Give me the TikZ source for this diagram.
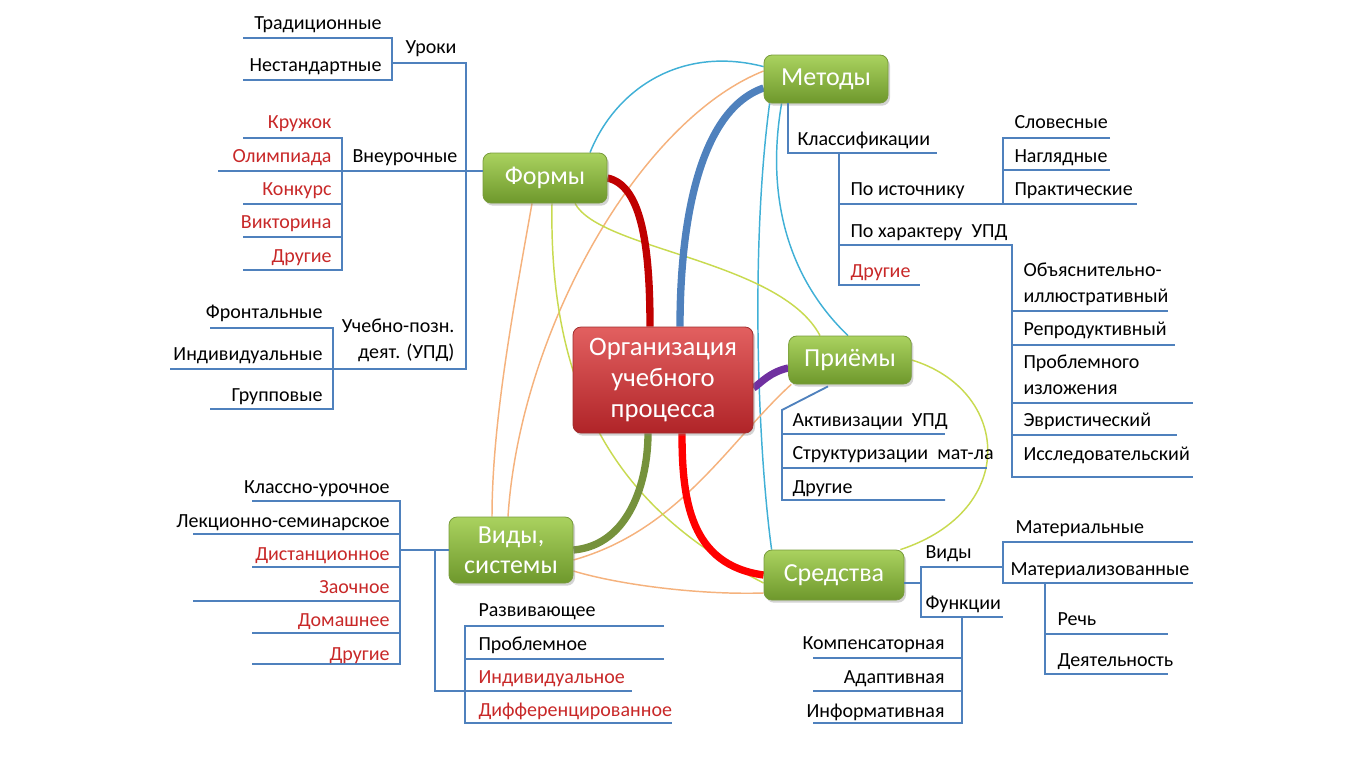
\documentclass[tikz,border=0pt]{standalone}
\usepackage{fontspec}
\setmainfont{Carlito}
\usetikzlibrary{calc,shadows,backgrounds}

\definecolor{treeblue}{RGB}{79,129,189}
\definecolor{leafred}{RGB}{200,40,40}
\definecolor{greentop}{RGB}{170,210,95}
\definecolor{greenbot}{RGB}{110,152,44}
\definecolor{greenrim}{RGB}{120,155,60}
\definecolor{redtop}{RGB}{226,96,96}
\definecolor{redbot}{RGB}{176,36,40}
\definecolor{redrim}{RGB}{160,45,45}
\definecolor{linkcyan}{RGB}{64,176,214}
\definecolor{linkorange}{RGB}{245,178,125}
\definecolor{linklime}{RGB}{200,218,80}
\definecolor{formyred}{RGB}{192,0,0}
\definecolor{metodyblue}{RGB}{79,129,189}
\definecolor{priemypurple}{RGB}{112,48,160}
\definecolor{vidyolive}{RGB}{118,146,60}
\definecolor{sredstvared}{RGB}{255,0,0}

\tikzset{every picture/.style={line width=0.75pt},
  topic/.style={rounded corners=6pt, draw=greenrim, line width=0.6pt, top color=greentop, bottom color=greenbot,
    text=white, font=\fontsize{19.5}{22.5}\selectfont, align=center, inner sep=0pt,
    drop shadow={opacity=0.35, shadow xshift=1.5pt, shadow yshift=-2pt}},
  core/.style={topic, draw=redrim, top color=redtop, bottom color=redbot, font=\fontsize{20}{23}\selectfont},
  leaf/.style={inner sep=0pt, font=\fontsize{15}{19.5}\selectfont},
  redleaf/.style={leaf, text=leafred},
  branch/.style={draw=treeblue, line width=1.4pt},
  thinlink/.style={line width=1.1pt},
  thicklink/.style={line width=5.5pt}
}

\begin{document}
\begin{tikzpicture}[x=0.75pt,y=0.75pt,yscale=-1,xscale=1]
\useasboundingbox (0,0) rectangle (1366,768);

%Rounded Rect: main topics
\draw (663,380) node [core, minimum width=135pt, minimum height=79.5pt] (org) {Организация\\учебного\\процесса};
\draw (826,79) node [topic, minimum width=93pt, minimum height=36pt] (metody) {Методы};
\draw (545,178) node [topic, minimum width=93pt, minimum height=37.5pt] (formy) {Формы};
\draw (850,360) node [topic, minimum width=92pt, minimum height=36pt] (priemy) {Приёмы};
\draw (511,550) node [topic, minimum width=93pt, minimum height=49.5pt] (vidy) {Виды,\\системы};
\draw (834,575) node [topic, minimum width=105pt, minimum height=37.5pt] (sredstva) {Средства};

\begin{scope}[on background layer]
%Curve Lines: thin links
\draw [thinlink, linkcyan] ($(formy.north)+(45,0)$) .. controls (615,90) and (680,45) .. ($(metody.north west)+(0,12)$) ;
\draw [thinlink, linkcyan] ($(metody.south west)+(6,0)$) .. controls (750,250) and (758,450) .. ($(sredstva.north west)+(8,0)$) ;
\draw [thinlink, linkcyan] ($(metody.south west)+(18,0)$) .. controls (765,200) and (790,280) .. ($(priemy.north)+(-2,0)$) ;
\draw [thinlink, linkorange] ($(metody.west)+(0,-8)$) .. controls (640,120) and (520,330) .. ($(vidy.north)+(-3,0)$) ;
\draw [thinlink, linkorange] ($(formy.south)+(-13,0)$) .. controls (515,300) and (492,420) .. ($(vidy.north)+(-19,0)$) ;
\draw [thinlink, linkorange] ($(priemy.south west)+(3,0)$) .. controls (730,440) and (680,530) .. ($(vidy.east)+(0,10)$) ;
\draw [thinlink, linkorange] ($(vidy.east)+(0,21)$) .. controls (620,585) and (700,595) .. ($(sredstva.west)+(0,18)$) ;
\draw [thinlink, linklime] ($(formy.south)+(30,0)$) .. controls (600,250) and (780,260) .. ($(priemy.north)+(-30,0)$) ;
\draw [thinlink, linklime] ($(formy.south)+(7,0)$) .. controls (548,420) and (640,520) .. ($(sredstva.west)+(0,8)$) ;
\draw [thinlink, linklime] (priemy.east) .. controls (1010,390) and (1020,510) .. ($(sredstva.north east)+(-4,0)$) ;

%Curve Lines: thick links
\draw [thicklink, formyred] (formy.east) .. controls (640,185) and (650,240) .. ($(org.north)+(-13,0)$) ;
\draw [thicklink, metodyblue] ($(metody.west)+(0,9)$) .. controls (700,110) and (680,220) .. ($(org.north)+(17,0)$) ;
\draw [thicklink, priemypurple] ($(priemy.west)+(0,8)$) .. controls (770,372) and (762,382) .. ($(org.east)+(0,8)$) ;
\draw [thicklink, vidyolive] (vidy.east) .. controls (630,545) and (648,480) .. ($(org.south)+(-15,0)$) ;
\draw [thicklink, sredstvared] (sredstva.west) .. controls (690,565) and (682,500) .. ($(org.south)+(19,0)$) ;
\end{scope}

%Straight Lines: Формы
\draw [branch] (243,38) -- (392,38) -- (392,80) -- (243,80) ;
\draw [branch] (392,63) -- (466,63) -- (466,369) -- (170,369) ;
\draw [branch] (218,171) -- (483,171) ;
\draw [branch] (243,137.7) -- (342,137.7) -- (342,270) -- (243,270) ;
\draw [branch] (243,204) -- (342,204) ;
\draw [branch] (243,237) -- (342,237) ;
\draw [branch] (210,328) -- (333,328) -- (333,409) -- (210,409) ;

%Straight Lines: Виды, системы
\draw [branch] (400,550) -- (449,550) ;
\draw [branch] (252,500.7) -- (400,500.7) -- (400,664) -- (252,664) ;
\draw [branch] (193,534) -- (400,534) ;
\draw [branch] (252,567) -- (400,567) ;
\draw [branch] (193,601) -- (400,601) ;
\draw [branch] (252,633) -- (400,633) ;
\draw [branch] (435,550) -- (435,691) -- (632,691) ;
\draw [branch] (664,626) -- (465,626) -- (465,723) -- (672,723) ;
\draw [branch] (465,659) -- (664,659) ;

%Straight Lines: Методы
\draw [branch] (788,103) -- (788,153) -- (937,153) ;
\draw [branch] (839,153) -- (839,285) -- (920,285) ;
\draw [branch] (839,204) -- (1137,204) ;
\draw [branch] (1110,138) -- (1003,138) -- (1003,204) ;
\draw [branch] (1003,170) -- (1110,170) ;
\draw [branch] (839,245) -- (1012,245) -- (1012,477) -- (1193,477) ;
\draw [branch] (1012,311) -- (1168,311) ;
\draw [branch] (1012,345) -- (1175,345) ;
\draw [branch] (1012,403) -- (1193,403) ;
\draw [branch] (1012,435) -- (1177,435) ;

%Straight Lines: Приёмы
\draw [branch] ($(priemy.south)+(-22,2)$) -- (782,410) -- (782,500) -- (945,500) ;
\draw [branch] (782,434) -- (945,434) ;
\draw [branch] (782,468) -- (987,468) ;

%Straight Lines: Средства
\draw [branch] (904,583) -- (921,583) ;
\draw [branch] (1003,567) -- (921,567) -- (921,617) -- (1003,617) ;
\draw [branch] (1193,542) -- (1003,542) -- (1003,583) -- (1193,583) ;
\draw [branch] (1045,583) -- (1045,674) -- (1168,674) ;
\draw [branch] (1045,634) -- (1168,634) ;
\draw [branch] (962,617) -- (962,723) -- (813,723) ;
\draw [branch] (813,658) -- (962,658) ;
\draw [branch] (813,691) -- (962,691) ;

% Text Node: Формы
\draw (382,29) node [leaf, anchor=base east] (trad) {Традиционные};
\draw (382,71) node [leaf, anchor=base east] (nestd) {Нестандартные};
\draw (405,53) node [leaf, anchor=base west] (uroki) {Уроки};
\draw (332,128) node [redleaf, anchor=base east] (kruzhok) {Кружок};
\draw (332,162) node [redleaf, anchor=base east] (olimp) {Олимпиада};
\draw (332,195) node [redleaf, anchor=base east] (konkurs) {Конкурс};
\draw (332,228) node [redleaf, anchor=base east] (viktor) {Викторина};
\draw (332,262) node [redleaf, anchor=base east] (drugiea) {Другие};
\draw (352,162) node [leaf, anchor=base west] (vneur) {Внеурочные};
\draw (323,318) node [leaf, anchor=base east] (front) {Фронтальные};
\draw (323,360) node [leaf, anchor=base east] (indiva) {Индивидуальные};
\draw (323,401) node [leaf, anchor=base east] (grupp) {Групповые};
\draw (455,340) node [leaf, anchor=east, align=right] (upd) {Учебно-позн.\\деят. (УПД)};

% Text Node: Виды, системы
\draw (390,493) node [leaf, anchor=base east] (klass) {Классно-урочное};
\draw (390,527) node [leaf, anchor=base east] (lekc) {Лекционно-семинарское};
\draw (390,560) node [redleaf, anchor=base east] (dist) {Дистанционное};
\draw (390,593) node [redleaf, anchor=base east] (zaoch) {Заочное};
\draw (390,626) node [redleaf, anchor=base east] (domash) {Домашнее};
\draw (390,660) node [redleaf, anchor=base east] (drugieb) {Другие};
\draw (478,616) node [leaf, anchor=base west] (razv) {Развивающее};
\draw (478,650) node [leaf, anchor=base west] (probl) {Проблемное};
\draw (478,683) node [redleaf, anchor=base west] (indivb) {Индивидуальное};
\draw (478,716) node [redleaf, anchor=base west] (diff) {Дифференцированное};

% Text Node: Методы
\draw (797,145) node [leaf, anchor=base west] (klassif) {Классификации};
\draw (850,195) node [leaf, anchor=base west] (poist) {По источнику};
\draw (850,237) node [leaf, anchor=base west] (poharakt) {По характеру~ УПД};
\draw (850,277) node [redleaf, anchor=base west] (drugiec) {Другие};
\draw (1014,128) node [leaf, anchor=base west] (slov) {Словесные};
\draw (1014,162) node [leaf, anchor=base west] (nagl) {Наглядные};
\draw (1014,195) node [leaf, anchor=base west] (prakt) {Практические};
\draw (1023,284) node [leaf, anchor=west, align=left] (obyasn) {Объяснительно-\\иллюстративный};
\draw (1023,335) node [leaf, anchor=base west] (reprod) {Репродуктивный};
\draw (1023,375) node [leaf, anchor=west, align=left] (problizl) {Проблемного\\изложения};
\draw (1023,426) node [leaf, anchor=base west] (evrist) {Эвристический};
\draw (1023,460) node [leaf, anchor=base west] (issled) {Исследовательский};

% Text Node: Приёмы
\draw (792,426) node [leaf, anchor=base west] (aktiv) {Активизации~ УПД};
\draw (792,459) node [leaf, anchor=base west] (strukt) {Структуризации~ мат-ла};
\draw (792,493) node [leaf, anchor=base west] (drugied) {Другие};

% Text Node: Средства
\draw (925,558) node [leaf, anchor=base west] (vidyb) {Виды};
\draw (925,609) node [leaf, anchor=base west] (funkc) {Функции};
\draw (1015,533) node [leaf, anchor=base west] (mater) {Материальные};
\draw (1010,575) node [leaf, anchor=base west] (materz) {Материализованные};
\draw (1057,625) node [leaf, anchor=base west] (rech) {Речь};
\draw (1057,666) node [leaf, anchor=base west] (deyat) {Деятельность};
\draw (945,649) node [leaf, anchor=base east] (komp) {Компенсаторная};
\draw (945,683) node [leaf, anchor=base east] (adapt) {Адаптивная};
\draw (945,717) node [leaf, anchor=base east] (inform) {Информативная};

\end{tikzpicture}
\end{document}
